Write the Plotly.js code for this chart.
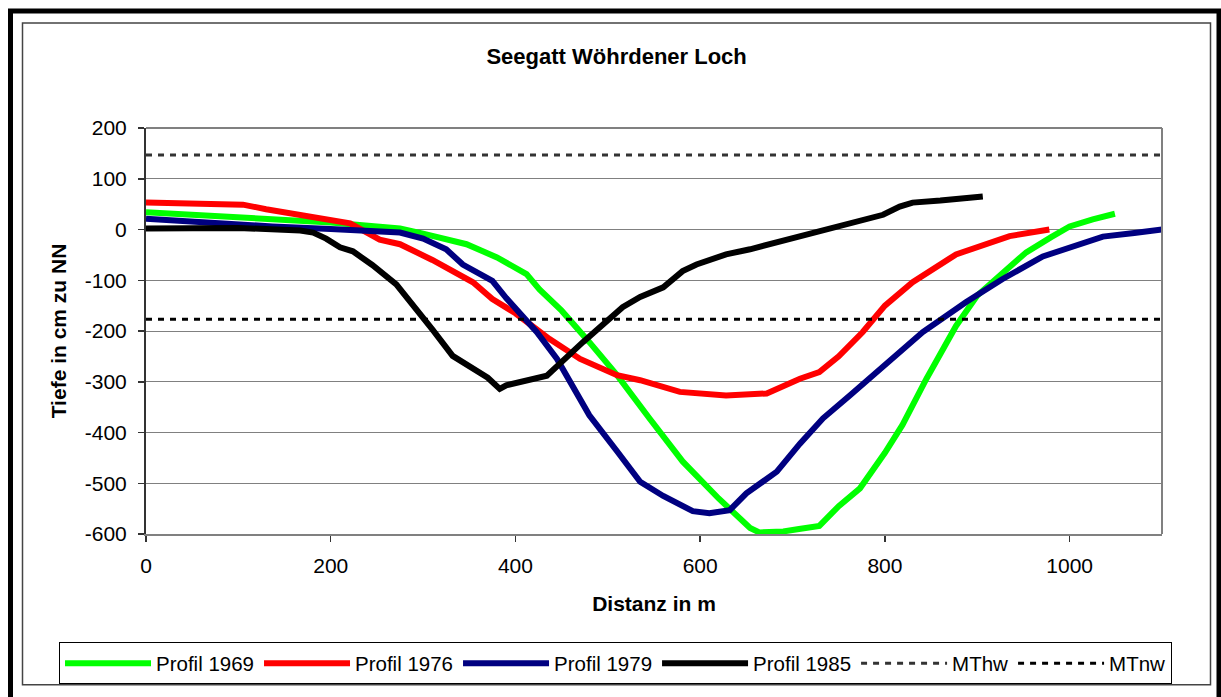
<!DOCTYPE html>
<html>
<head>
<meta charset="utf-8">
<script src="https://cdn.plot.ly/plotly-3.0.1.min.js"></script>
<style>
html,body{margin:0;padding:0;background:#fff;}
#chart{width:1221px;height:697px;}
</style>
</head>
<body>
<div id="chart"></div>
<script>
// ---- data ----
const x1969 = [0, 50, 100, 150, 200, 250, 275, 300, 347, 380, 412, 426, 450, 480, 510, 545, 581, 620, 654, 664, 690, 707, 729, 750, 773, 800, 819, 845, 877, 900, 927, 953, 980, 1000, 1025, 1049];
const y1969 = [34, 29, 24, 20, 14, 6, 2, -8, -29, -55, -88, -118, -160, -222, -287, -372, -457, -530, -588, -597, -595, -590, -584, -545, -510, -440, -385, -294, -190, -130, -85, -45, -15, 6, 20, 31];

const x1976 = [0, 50, 105, 130, 163, 196, 221, 253, 275, 310, 354, 375, 400, 437, 470, 510, 535, 578, 600, 628, 672, 708, 729, 750, 776, 800, 830, 877, 935, 960, 978];
const y1976 = [53, 51, 49, 40, 29, 20, 12, -20, -29, -60, -104, -137, -165, -216, -255, -287, -297, -320, -323, -327, -323, -294, -281, -250, -202, -150, -104, -49, -13, -5, 0];

const x1979 = [0, 50, 137, 200, 275, 300, 325, 343, 360, 375, 390, 423, 445, 480, 510, 535, 560, 592, 610, 632, 650, 683, 708, 733, 762, 800, 841, 888, 927, 971, 1000, 1036, 1070, 1100];
const y1979 = [21, 15, 6, 1, -6, -18, -39, -69, -85, -101, -135, -202, -255, -366, -437, -497, -525, -555, -559, -553, -520, -477, -422, -372, -327, -268, -202, -143, -98, -53, -35, -14, -7, 0];

const x1985 = [0, 100, 167, 181, 195, 210, 224, 245, 271, 293, 310, 332, 354, 370, 383, 390, 434, 450, 473, 516, 535, 560, 581, 596, 628, 654, 680, 708, 726, 760, 798, 816, 830, 860, 906];
const y1985 = [2, 3, -2, -6, -18, -35, -43, -70, -108, -157, -197, -249, -274, -292, -314, -307, -288, -260, -222, -153, -133, -114, -82, -69, -49, -39, -27, -14, -4, 12, 29, 45, 53, 57, 65];

const xLevels = [0, 1100];
const mthw = 147;
const mtnw = -177;

const seriesNames = ['Profil 1969', 'Profil 1976', 'Profil 1979', 'Profil 1985', 'MThw', 'MTnw'];
const xTicks = [0, 200, 400, 600, 800, 1000];
const yTicks = [200, 100, 0, -100, -200, -300, -400, -500, -600];

// ---- layout helpers (pixel -> paper) ----
const W = 1221, H = 697;
const L = 146, R = 1162, T = 128, B = 536;
const pw = R - L, ph = B - T;
const px = v => (v - L) / pw;
const py = v => (B - v) / ph;

const font = 'Arial, "Liberation Sans", sans-serif';

function line(x, y, name, color, width, dash) {
  return {
    type: 'scatter', mode: 'lines', x: x, y: y, name: name,
    line: {color: color, width: width, dash: dash || 'solid', shape: 'linear'},
    hoverinfo: 'x+y+name'
  };
}

const traces = [
  line(x1969, y1969, seriesNames[0], '#00ff00', 6),
  line(x1976, y1976, seriesNames[1], '#ff0000', 6),
  line(x1979, y1979, seriesNames[2], '#000080', 6),
  line(x1985, y1985, seriesNames[3], '#000000', 6),
  line(xLevels, xLevels.map(() => mthw), seriesNames[4], '#333333', 3, '6px,6px'),
  line(xLevels, xLevels.map(() => mtnw), seriesNames[5], '#000000', 3, '6px,6px')
];

const shapes = [
  // outer thick black frame
  {type: 'rect', xref: 'paper', yref: 'paper', x0: px(10.5), x1: px(1219), y0: py(705), y1: py(10.5),
   line: {color: '#000', width: 5}, fillcolor: 'rgba(0,0,0,0)', layer: 'below'},
  // inner thin frame
  {type: 'rect', xref: 'paper', yref: 'paper', x0: px(22.5), x1: px(1210.5), y0: py(687.5), y1: py(22.5),
   line: {color: '#444', width: 1.5}, fillcolor: 'rgba(0,0,0,0)', layer: 'below'},
  // plot area top & right border
  {type: 'line', xref: 'paper', yref: 'paper', x0: 0, x1: 1, y0: 1, y1: 1, line: {color: '#808080', width: 2}},
  {type: 'line', xref: 'paper', yref: 'paper', x0: 1, x1: 1, y0: 0, y1: 1, line: {color: '#808080', width: 2}}
];

const layout = {
  width: W, height: H,
  paper_bgcolor: '#ffffff', plot_bgcolor: '#ffffff',
  margin: {l: L, r: W - R, t: T, b: H - B, pad: 0},
  font: {family: font, color: '#000', size: 20},
  title: {text: '<b>Seegatt Wöhrdener Loch</b>', font: {family: font, size: 22, color: '#000'},
          x: 0.505, xref: 'container', y: 1 - 56 / H, yref: 'container', yanchor: 'middle'},
  xaxis: {
    range: [0, 1100], tickvals: xTicks, ticktext: xTicks.map(String),
    showgrid: false, zeroline: false,
    showline: true, linecolor: '#808080', linewidth: 2,
    ticks: 'outside', ticklen: 6, tickcolor: '#333', tickwidth: 1.5,
    ticklabelstandoff: 6,
    tickfont: {family: font, size: 21, color: '#000'},
    title: {text: '<b>Distanz in m</b>', font: {family: font, size: 21, color: '#000'}, standoff: 20},
    automargin: false
  },
  yaxis: {
    range: [-600, 200], tickvals: yTicks, ticktext: yTicks.map(String),
    showgrid: true, gridcolor: '#808080', gridwidth: 1,
    zeroline: false,
    showline: true, linecolor: '#333333', linewidth: 2,
    ticks: 'outside', ticklen: 6, tickcolor: '#333', tickwidth: 1.5,
    ticklabelstandoff: 7,
    tickfont: {family: font, size: 21, color: '#000'},
    title: {text: '<b>Tiefe in cm zu NN</b>', font: {family: font, size: 21, color: '#000'}, standoff: 12},
    automargin: false
  },
  showlegend: true,
  legend: {
    orientation: 'h', x: px(59), xanchor: 'left', y: py(645), yanchor: 'top',
    xref: 'paper', yref: 'paper',
    bordercolor: '#000', borderwidth: 1, bgcolor: '#fff',
    font: {family: font, size: 20.5, color: '#000'},
    itemwidth: 86, tracegroupgap: 0, traceorder: 'normal'
  },
  shapes: shapes
};

Plotly.newPlot('chart', traces, layout, {displayModeBar: false, staticPlot: true});
</script>
</body>
</html>
